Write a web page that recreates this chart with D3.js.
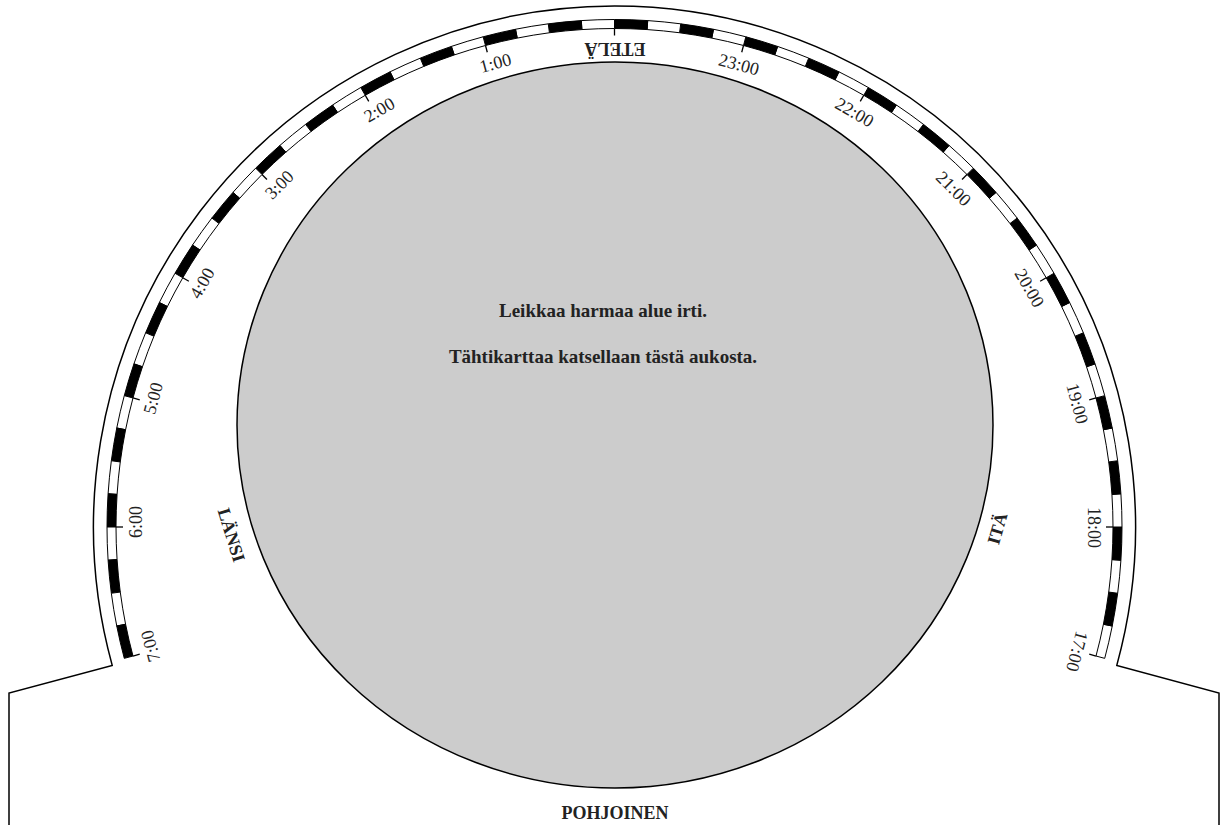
<!DOCTYPE html>
<html>
<head>
<meta charset="utf-8">
<script src="https://cdn.jsdelivr.net/npm/d3@7"></script>
<style>
    body { margin: 0; background: #fff; }
    svg text { font-family: "Liberation Serif", "DejaVu Serif", serif; fill: #222; }
</style>
</head>
<body>
<div id="holder-container"></div>
<script>
const width = 1222;
const height = 825;

// hour ring: 17:00 -> midnight -> 7:00
const hourValues = [17, 18, 19, 20, 21, 22, 23, 0, 1, 2, 3, 4, 5, 6, 7];
const hourLabels = ["17:00", "18:00", "19:00", "20:00", "21:00", "22:00", "23:00", "",
    "1:00", "2:00", "3:00", "4:00", "5:00", "6:00", "7:00"];
const minutesPerSegment = 15;

// compass names round the window
const directionNames = ["ETELÄ", "ITÄ", "POHJOINEN", "LÄNSI"];
const directionAngles = [-90, 15.7, 90, 163.4]; // degrees, screen, from +x

const noteLines = ["Leikkaa harmaa alue irti.", "Tähtikarttaa katsellaan tästä aukosta."];

// geometry
const ring = { cx: 614.5, cy: 527, outer: 521, bandOut: 507.5, bandIn: 498.5, tick: 491.5, label: 473 };
const win = { cx: 615, cy: 425, rx: 378, ry: 363 };
const cutAngle = 15.4; // where the outer arc meets the side flaps

const svg = d3.select("#holder-container")
    .append("svg")
    .attr("width", width)
    .attr("height", height);

const rad = d => d * Math.PI / 180;
// hours run anticlockwise, midnight on top
const hourAngle = h => -(h > 12 ? h - 24 : h) * 15;

// outer outline with the two flaps
const ox = ring.cx + ring.outer * Math.cos(rad(180 - cutAngle));
const oy = ring.cy + ring.outer * Math.sin(rad(180 - cutAngle));
const outline = d3.path();
outline.moveTo(9, height + 5);
outline.lineTo(9, 693);
outline.lineTo(ox, oy);
outline.arc(ring.cx, ring.cy, ring.outer, rad(180 - cutAngle), rad(360 + cutAngle), false);
outline.lineTo(1219, 693);
outline.lineTo(1219, height + 5);
svg.append("path")
    .attr("d", outline.toString())
    .attr("fill", "none")
    .attr("stroke", "#000")
    .attr("stroke-width", 1.5);

// 15 minute segments of the band
const hMin = hourValues[0] - 24, hMax = hourValues[hourValues.length - 1];
const steps = 60 / minutesPerSegment;
const segments = d3.range(hMin * steps, hMax * steps);
const bandArc = d3.arc()
    .innerRadius(ring.bandIn)
    .outerRadius(ring.bandOut)
    .startAngle(q => rad(-(q + 1) * 15 / steps))
    .endAngle(q => rad(-q * 15 / steps));

const band = svg.append("g")
    .attr("transform", `translate(${ring.cx},${ring.cy})`);
band.selectAll("path")
    .data(segments)
    .enter()
    .append("path")
    .attr("d", bandArc)
    .attr("fill", q => Math.abs(q) % 2 === 1 ? "#000" : "#fff")
    .attr("stroke", "#000")
    .attr("stroke-width", 1);

// hour ticks and labels
const hours = band.selectAll("g.hour")
    .data(hourValues)
    .enter()
    .append("g")
    .attr("class", "hour")
    .attr("transform", h => `rotate(${hourAngle(h)})`);
hours.append("line")
    .attr("x1", 0).attr("x2", 0)
    .attr("y1", -ring.tick).attr("y2", -ring.bandIn)
    .attr("stroke", "#000")
    .attr("stroke-width", 1.3);
hours.append("text")
    .attr("x", 21)
    .attr("y", -ring.label)
    .attr("text-anchor", "end")
    .style("font-size", "18px")
    .text((h, i) => hourLabels[i]);

// the window
svg.append("ellipse")
    .attr("cx", win.cx)
    .attr("cy", win.cy)
    .attr("rx", win.rx)
    .attr("ry", win.ry)
    .attr("fill", "#cccccc")
    .attr("stroke", "#000")
    .attr("stroke-width", 1.5);

// compass names, tops towards the window
const labelOffset = [12.5, 19, 24.5, 22];
svg.selectAll("text.dir")
    .data(directionNames)
    .enter()
    .append("text")
    .attr("class", "dir")
    .attr("transform", (d, i) => {
        const a = rad(directionAngles[i]);
        const ex = win.cx + win.rx * Math.cos(a);
        const ey = win.cy + win.ry * Math.sin(a);
        const x = ex + labelOffset[i] * Math.cos(a);
        const y = ey + labelOffset[i] * Math.sin(a);
        // normal of the ellipse gives the rotation
        const n = Math.atan2(Math.sin(a) / win.ry, Math.cos(a) / win.rx) * 180 / Math.PI;
        return `translate(${x},${y}) rotate(${n - 90})`;
    })
    .attr("text-anchor", "middle")
    .attr("dy", "0.35em")
    .style("font-size", "18px")
    .style("font-weight", "bold")
    .text(d => d);

// cutting note
svg.selectAll("text.note")
    .data(noteLines)
    .enter()
    .append("text")
    .attr("class", "note")
    .attr("x", 603)
    .attr("y", (d, i) => 317 + i * 46)
    .attr("text-anchor", "middle")
    .style("font-size", "19px")
    .style("font-weight", "bold")
    .text(d => d);
</script>
</body>
</html>
